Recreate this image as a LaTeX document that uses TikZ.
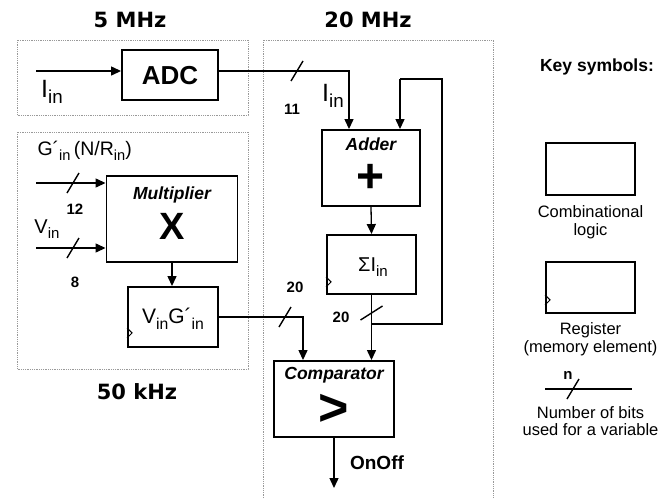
\documentclass[tikz,border=0pt]{standalone}
\usepackage{fontspec}
\setmainfont{Liberation Sans}
\newfontfamily\titlefont{DejaVu Sans}
\usetikzlibrary{arrows.meta}
\newcommand\fs[1]{\fontsize{#1}{#1}\selectfont}
\newcommand\subx[1]{\raisebox{-0.5ex}{\scalebox{0.75}{#1}}}
\begin{document}
\begin{tikzpicture}[x=1pt,y=-1pt,
  blk/.style={draw, line width=1.9pt, inner sep=0pt, rectangle},
  wire/.style={line width=1.3pt},
  arr/.style={line width=1.3pt, -{Triangle[length=10pt,width=9pt]}},
  slash/.style={line width=1.4pt},
  zone/.style={draw=gray!80, line width=0.9pt, dash pattern=on 0.9pt off 0.9pt},
  clk/.style={line width=1pt},
  title/.style={font=\titlefont\bfseries\fs{21}},
  num/.style={font=\bfseries\fs{15}},
  keytxt/.style={font=\fs{16.5}, align=center},
  hdr/.style={font=\bfseries\itshape\fs{17.5}}
]
\useasboundingbox (0,0) rectangle (668,498);

% clock-domain zones
\draw[zone] (17,40) rectangle (248,115);
\draw[zone] (17,132) rectangle (248,369);
\draw[zone] (263,498) -- (263,40) -- (493,40) -- (493,498);
\node[title] (t5) at (130,20) {5 MHz};
\node[title] (t20) at (368,20) {20 MHz};
\node[title] (t50) at (137,392) {50 kHz};

% blocks
\node[blk, minimum width=96pt, minimum height=50pt] (ADC) at (170,75) {};
\node[font=\bfseries\fs{26}] (ADCt) at (170,76) {ADC};

\node[blk, minimum width=131pt, minimum height=86pt] (Mult) at (172,219) {};
\node[hdr] (Multt) at (172,195) {Multiplier};
\node[font=\bfseries\fs{38}] (MultX) at (172,226) {X};

\node[blk, minimum width=90pt, minimum height=60pt] (Reg) at (173,317) {};
\node[font=\fs{21}] (Regt) at (173,319) {V\subx{in}G´\subx{in}};

\node[blk, minimum width=98pt, minimum height=76pt] (Adder) at (371,168) {};
\node[hdr] (Addert) at (371,144) {Adder};
\node[font=\bfseries\fs{48}] (Plus) at (371,178) {+};

\node[blk, minimum width=89pt, minimum height=59pt] (Sum) at (371.5,264.5) {};
\node[font=\fs{20}] (Sumt) at (373,267) {ΣI\subx{in}};

\node[blk, minimum width=120pt, minimum height=76pt] (Comp) at (334,399) {};
\node[hdr] (Compt) at (334,375) {Comparator};
\node[font=\bfseries\fs{52}] (Gt) at (334,410) {>};

% register clock marks
\draw[clk] ([yshift=18pt]Sum.south west) -- ([xshift=5pt,yshift=13pt]Sum.south west) -- ([yshift=8pt]Sum.south west);
\draw[clk] ([yshift=20pt]Reg.south west) -- ([xshift=5pt,yshift=15pt]Reg.south west) -- ([yshift=10pt]Reg.south west);

% inputs
\coordinate (iin) at (36,71);
\draw[arr] (iin) -- (iin -| ADC.west);
\node[font=\fs{25}] (iinl) at (52,92) {I\subx{in}};

\coordinate (gin) at (36,183);
\draw[arr] (gin) -- (gin -| Mult.west);
\node[font=\fs{19.5}, anchor=west] (ginl) at (34,151) {G´\subx{in}\,(N/R\subx{in})};
\coordinate (s12) at (73,183);
\draw[slash] ([shift={(-6,10)}]s12) -- ([shift={(6,-10)}]s12);
\node[num] (n12) at (75,209) {12};

\coordinate (vin) at (36,248);
\draw[arr] (vin) -- (vin -| Mult.west);
\node[font=\fs{20}] (vinl) at (47,229) {V\subx{in}};
\coordinate (s8) at (73,248);
\draw[slash] ([shift={(-6,10)}]s8) -- ([shift={(6,-10)}]s8);
\node[num] (n8) at (75,282) {8};

% ADC to adder
\coordinate (a1) at (349,71);
\draw[arr] (ADC.east |- iin) -- (a1) -- (a1 |- Adder.north);
\coordinate (s11) at (297,71);
\draw[slash] ([shift={(-6,10)}]s11) -- ([shift={(6,-10)}]s11);
\node[num] (n11) at (292,109) {11};
\node[font=\fs{25}] (iin2) at (333,96) {I\subx{in}};

% adder to accumulator
\draw[arr] (Adder.south) -- (Sum.north);

% accumulator output, feedback, to comparator
\coordinate (j) at (Sum.south |- 0,324);
\coordinate (fb1) at (442,324);
\coordinate (fb2) at (442,79);
\coordinate (fb3) at (400,79);
\draw[wire] (j) -- (fb1) -- (fb2) -- (fb3);
\draw[arr] (fb3) -- (fb3 |- Adder.north);
\draw[arr] (Sum.south) -- (Sum.south |- Comp.north);
\coordinate (s20b) at (Sum.south |- 0,313);
\draw[slash] ([shift={(-11,7)}]s20b) -- ([shift={(11,-7)}]s20b);
\node[num] (n20b) at (341,317) {20};

% multiplier to register
\draw[arr] (Mult.south) -- (Mult.south |- Reg.north);

% register to comparator
\coordinate (r1) at (303,317);
\draw[arr] (Reg.east |- r1) -- (r1) -- (r1 |- Comp.north);
\coordinate (s20a) at (285,317);
\draw[slash] ([shift={(-6,10)}]s20a) -- ([shift={(6,-10)}]s20a);
\node[num] (n20a) at (295,287) {20};

% output
\coordinate (out) at (Comp.south |- 0,488);
\draw[arr] (Comp.south) -- (out);
\node[font=\bfseries\fs{19}] (onoff) at (377,463) {OnOff};

% key
\node[font=\bfseries\fs{17.5}] (key) at (597,67) {Key symbols:};
\node[blk, minimum width=89pt, minimum height=52pt] (kc) at (590.5,169) {};
\node[keytxt] (kct) at (590.5,222) {Combinational\\[1pt]logic};
\node[blk, minimum width=89pt, minimum height=51pt] (kr) at (590.5,287.5) {};
\draw[clk] ([yshift=19pt]kr.south west) -- ([xshift=5pt,yshift=14pt]kr.south west) -- ([yshift=9pt]kr.south west);
\node[keytxt] (krt) at (590.5,339) {Register\\[1pt](memory element)};
\coordinate (kl1) at (545,389);
\coordinate (kl2) at (632,389);
\draw[wire] (kl1) -- (kl2);
\coordinate (ks) at (573,389);
\draw[slash] ([shift={(-6,10)}]ks) -- ([shift={(6,-10)}]ks);
\node[num] (kn) at (568,375) {n};
\node[keytxt] (kbt) at (590.5,421) {Number of bits\\[1pt]used for a variable};
\end{tikzpicture}
\end{document}
